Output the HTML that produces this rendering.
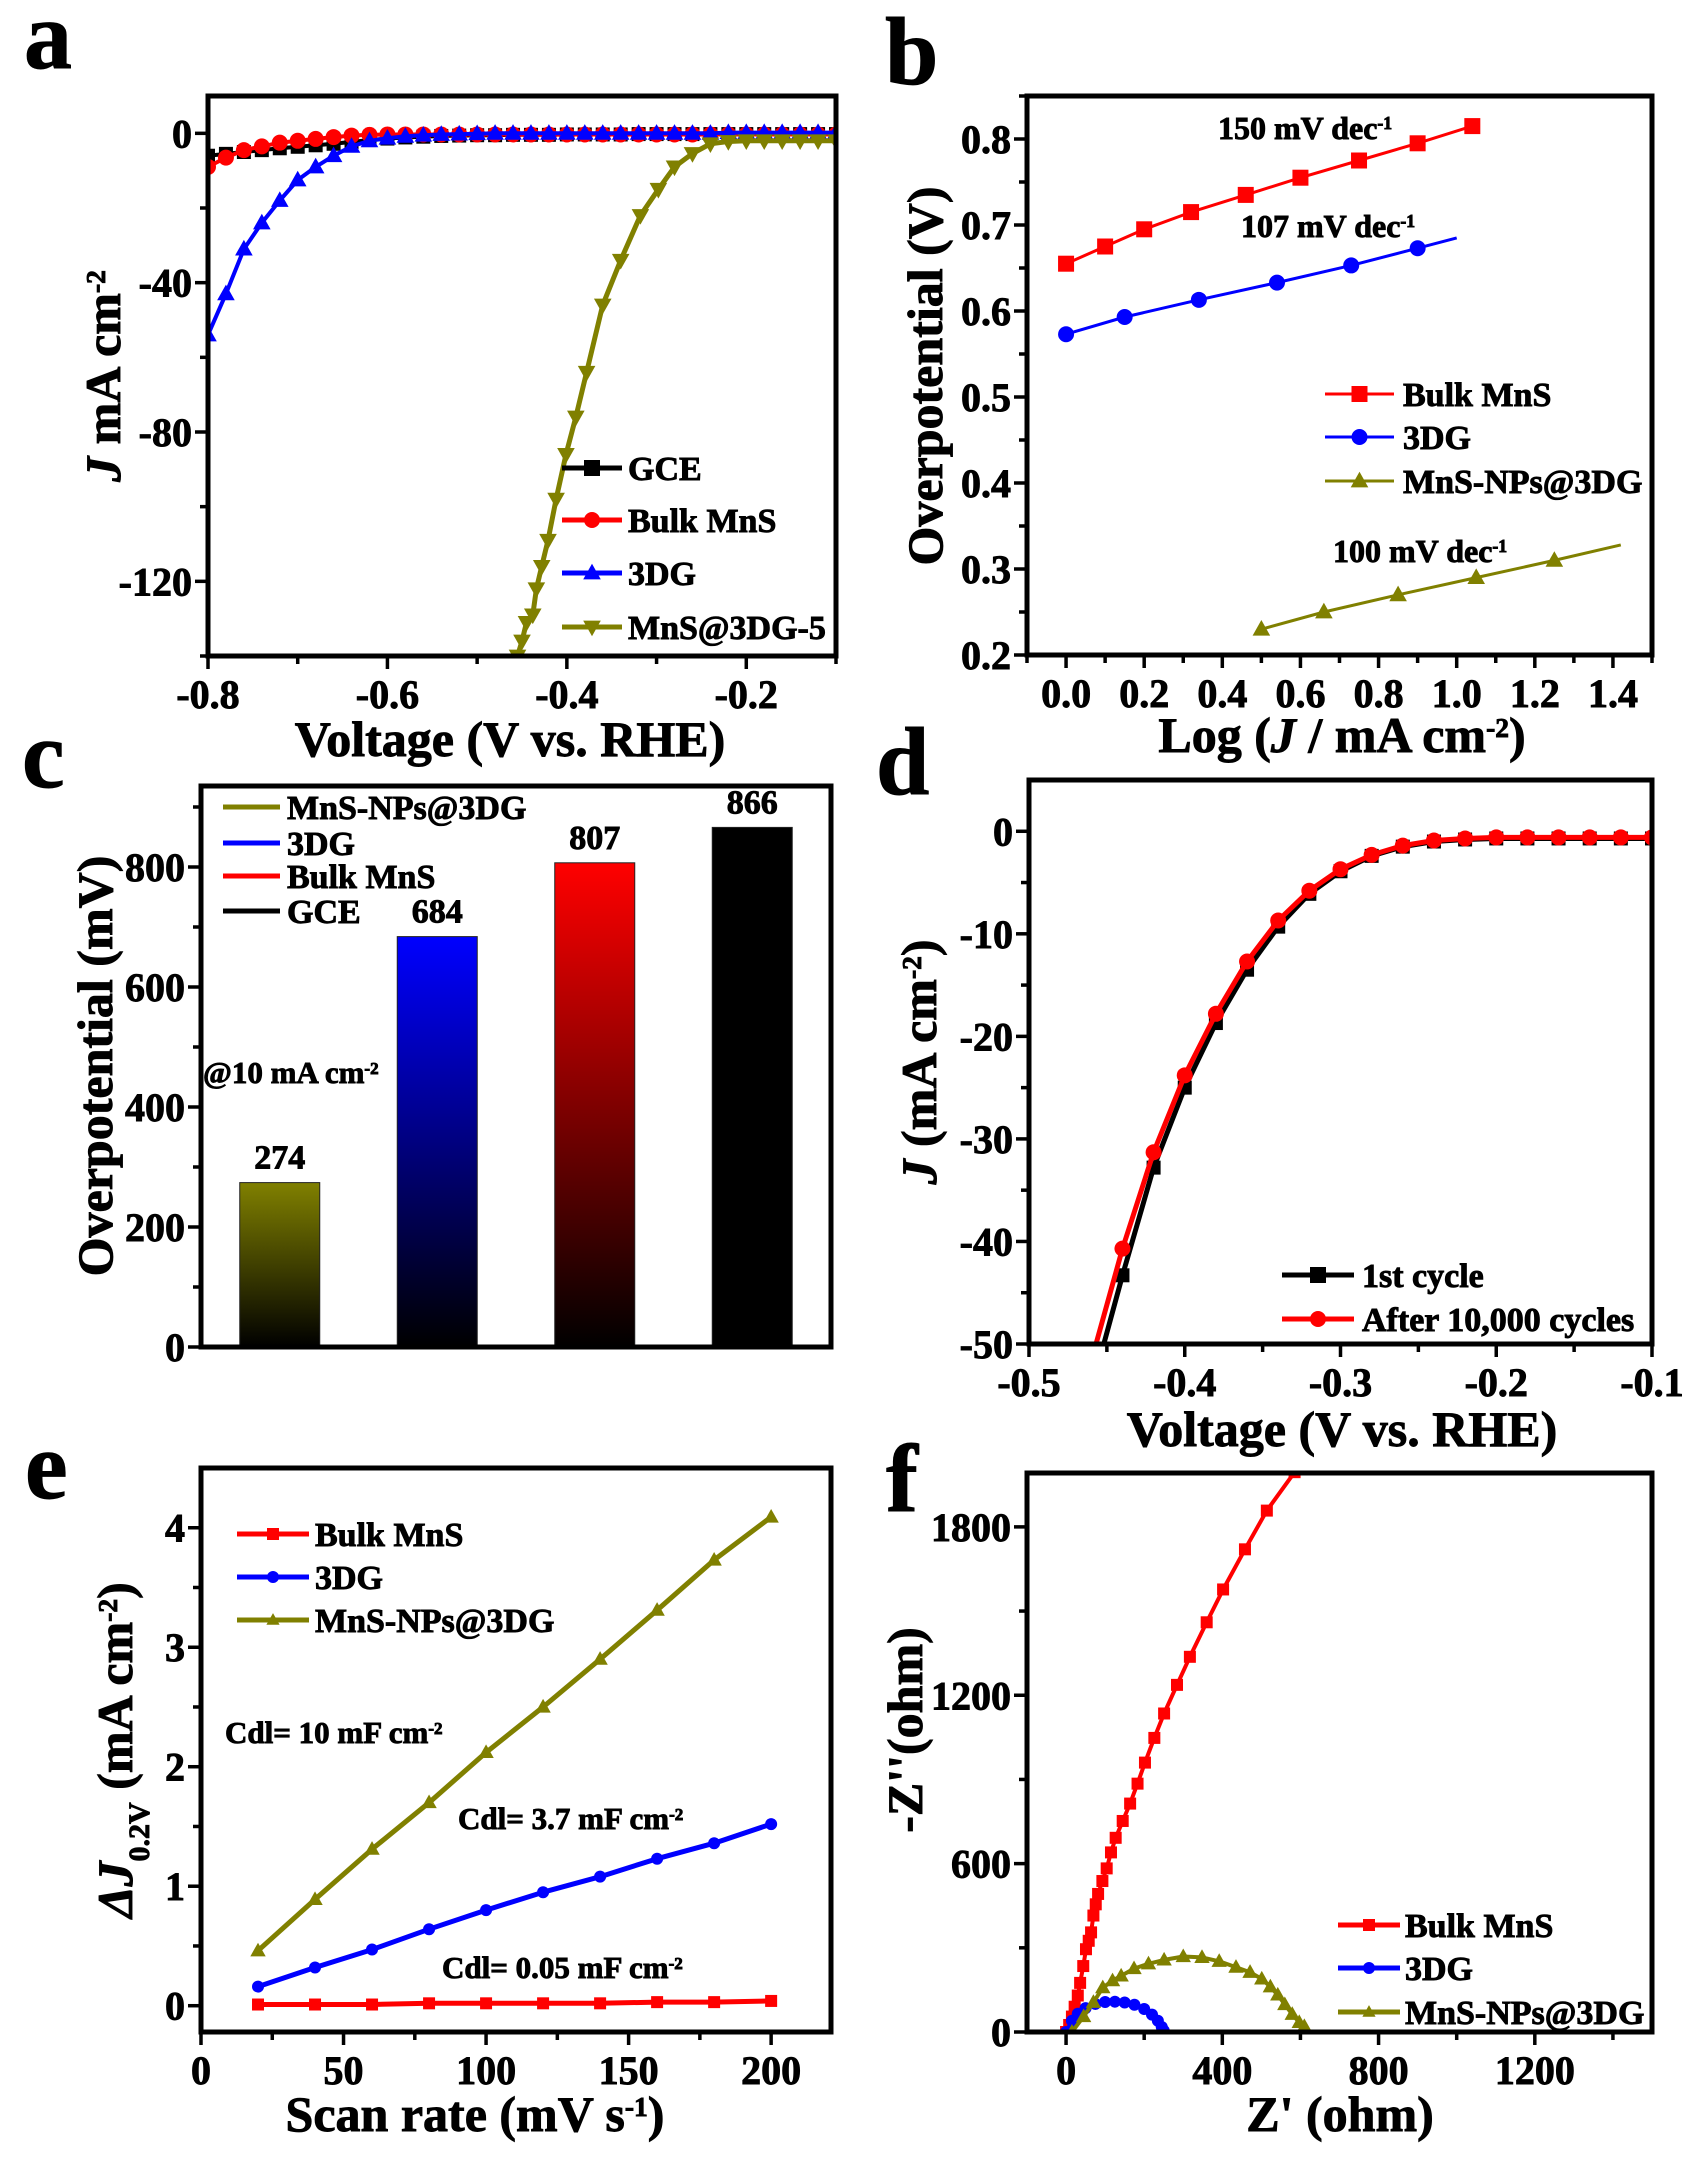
<!DOCTYPE html>
<html><head><meta charset="utf-8"><title>MnS electrocatalysis figure</title>
<style>
html,body{margin:0;padding:0;background:#fff;}
svg{display:block;font-family:"Liberation Serif","DejaVu Serif",serif;font-weight:bold;}
svg text{stroke:#000;stroke-width:0.9px;}
</style></head>
<body>
<svg id="fig" width="1686" height="2172" viewBox="0 0 1686 2172" xmlns="http://www.w3.org/2000/svg"></svg>
<script>
// ---------- Panel a data ----------
const aX = [-0.80,-0.78,-0.76,-0.74,-0.72,-0.70,-0.68,-0.66,-0.64,-0.62,-0.60,-0.58,-0.56,-0.54,-0.52,-0.50,-0.48,-0.46,-0.44,-0.42,-0.40,-0.38,-0.36,-0.34,-0.32,-0.30,-0.28,-0.26,-0.24,-0.22,-0.20,-0.18,-0.16,-0.14,-0.12,-0.10];
const aGCE = [-6,-5.5,-5,-4.5,-4,-3.6,-3.2,-2.8,-2.3,-1.8,-1.4,-1.1,-0.9,-0.7,-0.6,-0.5,-0.5,-0.4,-0.4,-0.4,-0.3,-0.3,-0.3,-0.3,-0.2,-0.2,-0.2,-0.2,-0.2,-0.2,-0.2,-0.2,-0.2,-0.2,-0.2,-0.2];
const aBulk = [-9,-6.5,-4.5,-3.5,-2.5,-2,-1.5,-1,-0.6,-0.4,-0.3,-0.3,-0.3,-0.3,-0.3,-0.3,-0.3,-0.3,-0.3,-0.3,-0.3,-0.3,-0.3,-0.3,-0.3,-0.3,-0.3,-0.3,-0.3,-0.3,-0.3,-0.3,-0.3,-0.3,-0.3,-0.3];
const a3DG = [-54,-43,-31,-24,-18,-12.5,-9,-6,-3.5,-2,-1.3,-0.8,-0.5,-0.3,-0.2,-0.1,0,0,0,0,0,0,0,0,0,0,0,0,0,0.2,0.2,0.2,0.2,0.2,0.2,0.2];
const aMnSX = [-0.455,-0.45,-0.445,-0.438,-0.434,-0.428,-0.421,-0.412,-0.401,-0.39,-0.378,-0.36,-0.34,-0.318,-0.298,-0.28,-0.26,-0.24,-0.22,-0.20,-0.18,-0.16,-0.14,-0.12,-0.10];
const aMnSY = [-140,-136,-131,-129,-122,-116,-109,-98,-86,-76,-64,-46,-34,-22,-15,-9,-5.4,-2.8,-2.2,-2,-2,-2,-2,-2,-2];
// ---------- Panel b data ----------
const bBulkX = [0,0.1,0.2,0.32,0.46,0.6,0.75,0.9,1.04];
const bBulkY = [0.655,0.675,0.695,0.715,0.735,0.755,0.775,0.795,0.815];
const b3DGX = [0,0.15,0.34,0.54,0.73,0.9,1.0];
const b3DGY = [0.573,0.593,0.613,0.633,0.653,0.673,0.685];
const bMnSX = [0.5,0.66,0.85,1.05,1.25,1.42];
const bMnSY = [0.23,0.25,0.27,0.29,0.31,0.328];
// ---------- Panel c data ----------
const cCats = ["MnS-NPs@3DG","3DG","Bulk MnS","GCE"];
const cVals = [274,684,807,866];
// ---------- Panel d data ----------
const dX1 = [-0.452,-0.44,-0.42,-0.40,-0.38,-0.36,-0.34,-0.32,-0.30,-0.28,-0.26,-0.24,-0.22,-0.20,-0.18,-0.16,-0.14,-0.12,-0.10];
const dY1 = [-50,-43.3,-32.8,-25,-18.7,-13.5,-9.3,-6.1,-3.9,-2.4,-1.5,-1.0,-0.8,-0.7,-0.7,-0.7,-0.7,-0.7,-0.7];
const dX2 = [-0.457,-0.44,-0.42,-0.40,-0.38,-0.36,-0.34,-0.32,-0.30,-0.28,-0.26,-0.24,-0.22,-0.20,-0.18,-0.16,-0.14,-0.12,-0.10];
const dY2 = [-50,-40.7,-31.3,-23.8,-17.8,-12.7,-8.7,-5.8,-3.7,-2.3,-1.4,-0.9,-0.7,-0.6,-0.6,-0.6,-0.6,-0.6,-0.6];
// ---------- Panel e data ----------
const eX = [20,40,60,80,100,120,140,160,180,200];
const eBulk = [0.01,0.01,0.01,0.02,0.02,0.02,0.02,0.03,0.03,0.04];
const e3DG = [0.16,0.32,0.47,0.64,0.80,0.95,1.08,1.23,1.36,1.52];
const eMnS = [0.46,0.89,1.31,1.70,2.12,2.50,2.90,3.31,3.73,4.09];
// ---------- Panel f data ----------
const fBulkX = [0,8,15,22,30,36,44,51,58,64,70,76,82,93,104,115,127,145,164,183,202,226,251,284,317,360,402,458,514,585];
const fBulkY = [0,25,55,90,130,175,235,295,325,355,415,455,492,538,583,640,692,752,814,885,960,1048,1135,1237,1337,1460,1577,1720,1858,1995];
const f3DGX = [0,15,30,50,75,100,125,150,175,200,220,235,245,250];
const f3DGY = [0,40,65,85,100,107,108,105,97,82,62,40,18,5];
const fMnSX = [15,45,70,94,119,141,174,211,251,300,348,392,435,471,501,523,542,560,579,597,610];
const fMnSY = [0,55,106,158,183,200,226,243,257,269,266,252,231,213,189,161,132,98,63,34,20];

const NS = "http://www.w3.org/2000/svg";
const fig = document.getElementById('fig');
function mk(tag, attrs, parent, name, inter){
  const el = document.createElementNS(NS, tag);
  for (const k in attrs) el.setAttribute(k, attrs[k]);
  
  
  (parent || fig).appendChild(el);
  return el;
}
function txt(s, x, y, size, parent, name, anchor){
  const t = mk('text', {x:x, y:y, 'font-size':size, 'text-anchor':anchor||'start', fill:'#000'}, parent, name, false);
  t.textContent = s; return t;
}
function rich(parts, x, y, size, parent, name, anchor, rot){
  const attrs = {x:x, y:y, 'font-size':size, 'text-anchor':anchor||'start', fill:'#000'};
  if (rot) attrs.transform = 'rotate(-90 '+x+' '+y+')';
  const t = mk('text', attrs, parent, name, false);
  parts.forEach(p=>{
    const s = document.createElementNS(NS,'tspan');
    s.textContent = p.t;
    if (p.sup){ s.setAttribute('baseline-shift','super'); s.setAttribute('font-size', size*0.55); }
    if (p.sub){ s.setAttribute('baseline-shift','sub'); s.setAttribute('font-size', size*0.6); }
    if (p.i) s.setAttribute('font-style','italic');
    t.appendChild(s);
  });
  return t;
}
function axes(o){
  const g = mk('g', {}, fig, o.name, false);
  const sx = v => o.L + (v - o.xlim[0]) / (o.xlim[1]-o.xlim[0]) * (o.R - o.L);
  const sy = v => o.B - (v - o.ylim[0]) / (o.ylim[1]-o.ylim[0]) * (o.B - o.T);
  const tk = mk('g', {stroke:'#000','stroke-width':3.5}, g, 'ticks', false);
  (o.xMajor||[]).forEach((v,i)=>{
    mk('line',{x1:sx(v),x2:sx(v),y1:o.B,y2:o.B+13},tk,'x-tick',false);
    txt(o.xLabels[i], sx(v), o.B+52, 40, g, 'x-tick-label', 'middle');
  });
  (o.xMinor||[]).forEach(v=>{ mk('line',{x1:sx(v),x2:sx(v),y1:o.B,y2:o.B+8},tk,'x-minor-tick',false); });
  (o.yMajor||[]).forEach((v,i)=>{
    mk('line',{x1:o.L-13,x2:o.L,y1:sy(v),y2:sy(v)},tk,'y-tick',false);
    txt(o.yLabels[i], o.L-16, sy(v)+14, 40, g, 'y-tick-label', 'end');
  });
  (o.yMinor||[]).forEach(v=>{ mk('line',{x1:o.L-8,x2:o.L,y1:sy(v),y2:sy(v)},tk,'y-minor-tick',false); });
  const clipId = 'clip-'+o.name;
  const cp = mk('clipPath',{id:clipId},g,'plot-clip',false);
  mk('rect',{x:o.L,y:o.T,width:o.R-o.L,height:o.B-o.T},cp,'clip-rect',false);
  const plot = mk('g',{'clip-path':'url(#'+clipId+')'},g,'plot-area',false);
  return {g, plot, sx, sy, o};
}
function frame(ax){
  const o = ax.o;
  mk('rect',{x:o.L,y:o.T,width:o.R-o.L,height:o.B-o.T,fill:'none',stroke:'#000','stroke-width':5},ax.g,'plot-frame',false);
}
function marker(shape, x, y, r, color, parent, name){
  if (shape==='sq') return mk('rect',{x:x-r,y:y-r,width:2*r,height:2*r,fill:color},parent,name,false);
  if (shape==='ci') return mk('circle',{cx:x,cy:y,r:r,fill:color},parent,name,false);
  if (shape==='tu') return mk('polygon',{points:`${x},${y-r*1.15} ${x-r*1.1},${y+r*0.8} ${x+r*1.1},${y+r*0.8}`,fill:color},parent,name,false);
  if (shape==='td') return mk('polygon',{points:`${x},${y+r*1.15} ${x-r*1.1},${y-r*0.8} ${x+r*1.1},${y-r*0.8}`,fill:color},parent,name,false);
}
function series(ax, xs, ys, color, shape, r, lw, name, markerEvery){
  const g = mk('g',{},ax.plot,name,false);
  const pts = xs.map((x,i)=>ax.sx(x).toFixed(1)+','+ax.sy(ys[i]).toFixed(1)).join(' ');
  mk('polyline',{points:pts,fill:'none',stroke:color,'stroke-width':lw,'stroke-linejoin':'round'},g,name+'-line',false);
  if (shape) xs.forEach((x,i)=>{ if(!markerEvery || markerEvery(i)) marker(shape, ax.sx(x), ax.sy(ys[i]), r, color, g, name+'-point'); });
}
function legend(items, lx1, lx2, tx, ys, size, parent, lw, r){
  const g = mk('g',{},parent,'legend',false);
  items.forEach((it,i)=>{
    const eg = mk('g',{},g,'legend-entry',true);
    mk('line',{x1:lx1,x2:lx2,y1:ys[i],y2:ys[i],stroke:it.c,'stroke-width':lw},eg,'legend-line',false);
    if (it.s) marker(it.s,(lx1+lx2)/2,ys[i],r,it.c,eg,'legend-marker');
    txt(it.t, tx, ys[i]+size*0.36, size, eg, 'legend-label');
  });
}
const OL = '#808000', RD = '#ff0000', BL = '#0000ff', BK = '#000000';
function rng(a,b,s){const r=[];for(let v=a;v<=b+1e-9;v+=s)r.push(+v.toFixed(4));return r;}

// ================= Panel a =================
txt('a', 24, 68, 96, fig, 'panel-label-a');
const A = axes({name:'panel-a', L:208,R:836,T:96,B:656, xlim:[-0.8,-0.1], ylim:[-140,10],
  xMajor:[-0.8,-0.6,-0.4,-0.2], xLabels:['-0.8','-0.6','-0.4','-0.2'], xMinor:[-0.7,-0.5,-0.3,-0.1],
  yMajor:[0,-40,-80,-120], yLabels:['0','-40','-80','-120'], yMinor:[-20,-60,-100,-140]});
series(A, aX, aGCE, BK, 'sq', 7, 4, 'series-gce');
series(A, aX, aBulk, RD, 'ci', 8, 4, 'series-bulk-mns');
series(A, aX, a3DG, BL, 'tu', 8, 4, 'series-3dg');
series(A, aMnSX, aMnSY, OL, 'td', 8, 5, 'series-mns-3dg-5');
frame(A);
legend([{t:'GCE',c:BK,s:'sq'},{t:'Bulk MnS',c:RD,s:'ci'},{t:'3DG',c:BL,s:'tu'},{t:'MnS@3DG-5',c:OL,s:'td'}],
  562,622,628,[468,520,573,627],34,A.g,5,8);
rich([{t:'J',i:1},{t:' mA cm'},{t:'-2',sup:1}], 120, 376, 50, A.g, 'y-axis-title', 'middle', true);
txt('Voltage (V vs. RHE)', 510, 756, 50, A.g, 'x-axis-title', 'middle');

// ================= Panel b =================
txt('b', 885, 84, 96, fig, 'panel-label-b');
const B = axes({name:'panel-b', L:1027,R:1652,T:96,B:655, xlim:[-0.1,1.5], ylim:[0.2,0.85],
  xMajor:rng(0,1.4,0.2), xLabels:['0.0','0.2','0.4','0.6','0.8','1.0','1.2','1.4'], xMinor:rng(0.1,1.3,0.2).concat([-0.1+1e-6,1.5-1e-6]),
  yMajor:rng(0.2,0.8,0.1), yLabels:['0.2','0.3','0.4','0.5','0.6','0.7','0.8'], yMinor:rng(0.25,0.85,0.1)});
series(B, bBulkX, bBulkY, RD, 'sq', 8, 3, 'series-bulk-mns');
series(B, b3DGX, b3DGY, BL, 'ci', 8, 3, 'series-3dg', i=>i<b3DGX.length-1);
series(B, bMnSX, bMnSY, OL, 'tu', 8, 3, 'series-mns-nps-3dg', i=>i<bMnSX.length-1);
frame(B);
legend([{t:'Bulk MnS',c:RD,s:'sq'},{t:'3DG',c:BL,s:'ci'},{t:'MnS-NPs@3DG',c:OL,s:'tu'}],
  1325,1394,1403,[394,437,481],34,B.g,3,8);
rich([{t:'150 mV dec'},{t:'-1',sup:1}], 1218, 139, 32, B.g, 'tafel-slope-bulk');
rich([{t:'107 mV dec'},{t:'-1',sup:1}], 1241, 237, 32, B.g, 'tafel-slope-3dg');
rich([{t:'100 mV dec'},{t:'-1',sup:1}], 1333, 562, 32, B.g, 'tafel-slope-mns');
txt('Overpotential (V)', 942, 376, 50, B.g, 'y-axis-title', 'middle').setAttribute('transform','rotate(-90 942 376)');
rich([{t:'Log ('},{t:'J',i:1},{t:' / mA cm'},{t:'-2',sup:1},{t:')'}], 1342, 752, 50, B.g, 'x-axis-title', 'middle');

// ================= Panel c =================
txt('c', 22, 787, 96, fig, 'panel-label-c');
const C = axes({name:'panel-c', L:201,R:831,T:786,B:1347, xlim:[0.5,4.5], ylim:[0,935],
  yMajor:[0,200,400,600,800], yLabels:['0','200','400','600','800'], yMinor:[100,300,500,700,900]});
const defs = mk('defs',{},C.g,'gradients',false);
const cCols = [OL,BL,RD,BK];
cVals.forEach((v,i)=>{
  const gr = mk('linearGradient',{id:'grad'+i,x1:0,y1:0,x2:0,y2:1},defs,'bar-gradient',false);
  mk('stop',{offset:'0','stop-color':cCols[i]},gr,'gradient-stop',false);
  mk('stop',{offset:'1','stop-color':'#000'},gr,'gradient-stop',false);
  const cx = C.sx(i+1);
  mk('rect',{x:cx-40,y:C.sy(v),width:80,height:C.sy(0)-C.sy(v),fill:'url(#grad'+i+')',stroke:'#222','stroke-width':1},C.plot,'bar-'+cCats[i].toLowerCase().replace(/[^a-z0-9]+/g,'-'),true);
  txt(String(v), cx, C.sy(v)-14, 34, C.g, 'bar-value-label', 'middle');
});
frame(C);
legend([{t:'MnS-NPs@3DG',c:OL},{t:'3DG',c:BL},{t:'Bulk MnS',c:RD},{t:'GCE',c:BK}],
  223,280,287,[807,843,876,911],34,C.g,5,0);
rich([{t:'@10 mA cm'},{t:'-2',sup:1}], 203, 1083, 31, C.g, 'current-density-note');
txt('Overpotential (mV)', 112, 1066, 50, C.g, 'y-axis-title', 'middle').setAttribute('transform','rotate(-90 112 1066)');

// ================= Panel d =================
txt('d', 876, 794, 96, fig, 'panel-label-d');
const D = axes({name:'panel-d', L:1029,R:1652,T:780,B:1344, xlim:[-0.5,-0.1], ylim:[-50,5],
  xMajor:[-0.5,-0.4,-0.3,-0.2,-0.1], xLabels:['-0.5','-0.4','-0.3','-0.2','-0.1'], xMinor:[-0.45,-0.35,-0.25,-0.15],
  yMajor:[0,-10,-20,-30,-40,-50], yLabels:['0','-10','-20','-30','-40','-50'], yMinor:[-5,-15,-25,-35,-45]});
series(D, dX1, dY1, BK, 'sq', 7, 5, 'series-1st-cycle', i=>i>0);
series(D, dX2, dY2, RD, 'ci', 8, 5, 'series-after-10000-cycles', i=>i>0);
frame(D);
legend([{t:'1st cycle',c:BK,s:'sq'},{t:'After 10,000 cycles',c:RD,s:'ci'}],
  1282,1354,1362,[1275,1319],34,D.g,5,8);
rich([{t:'J',i:1},{t:' (mA cm'},{t:'-2',sup:1},{t:')'}], 936, 1062, 50, D.g, 'y-axis-title', 'middle', true);
txt('Voltage (V vs. RHE)', 1342, 1446, 50, D.g, 'x-axis-title', 'middle');

// ================= Panel e =================
txt('e', 25, 1498, 96, fig, 'panel-label-e');
const E = axes({name:'panel-e', L:201,R:831,T:1468,B:2032, xlim:[0,221], ylim:[-0.22,4.5],
  xMajor:[0,50,100,150,200], xLabels:['0','50','100','150','200'], xMinor:[25,75,125,175],
  yMajor:[0,1,2,3,4], yLabels:['0','1','2','3','4'], yMinor:[0.5,1.5,2.5,3.5]});
series(E, eX, eBulk, RD, 'sq', 6, 5, 'series-bulk-mns');
series(E, eX, e3DG, BL, 'ci', 6, 5, 'series-3dg');
series(E, eX, eMnS, OL, 'tu', 7, 5, 'series-mns-nps-3dg');
frame(E);
legend([{t:'Bulk MnS',c:RD,s:'sq'},{t:'3DG',c:BL,s:'ci'},{t:'MnS-NPs@3DG',c:OL,s:'tu'}],
  237,309,315,[1534,1577,1620],34,E.g,5,6);
rich([{t:'Cdl= 10 mF cm'},{t:'-2',sup:1}], 225, 1743, 31, E.g, 'cdl-mns-annotation');
rich([{t:'Cdl= 3.7 mF cm'},{t:'-2',sup:1}], 458, 1829, 31, E.g, 'cdl-3dg-annotation');
rich([{t:'Cdl= 0.05 mF cm'},{t:'-2',sup:1}], 442, 1978, 31, E.g, 'cdl-bulk-annotation');
rich([{t:'ΔJ',i:1},{t:'0.2V',sub:1},{t:' (mA cm'},{t:'-2',sup:1},{t:')'}], 132, 1750, 50, E.g, 'y-axis-title', 'middle', true);
rich([{t:'Scan rate (mV s'},{t:'-1',sup:1},{t:')'}], 475, 2131, 50, E.g, 'x-axis-title', 'middle');

// ================= Panel f =================
txt('f', 886, 1511, 96, fig, 'panel-label-f');
const F = axes({name:'panel-f', L:1027,R:1652,T:1473,B:2032, xlim:[-100,1500], ylim:[0,1992],
  xMajor:[0,400,800,1200], xLabels:['0','400','800','1200'], xMinor:[200,600,1000,1400],
  yMajor:[0,600,1200,1800], yLabels:['0','600','1200','1800'], yMinor:[300,900,1500]});
series(F, fBulkX, fBulkY, RD, 'sq', 6, 4, 'series-bulk-mns');
series(F, f3DGX, f3DGY, BL, 'ci', 6, 4, 'series-3dg');
series(F, fMnSX, fMnSY, OL, 'tu', 7, 4, 'series-mns-nps-3dg');
frame(F);
legend([{t:'Bulk MnS',c:RD,s:'sq'},{t:'3DG',c:BL,s:'ci'},{t:'MnS-NPs@3DG',c:OL,s:'tu'}],
  1338,1400,1405,[1925,1968,2012],34,F.g,5,6);
txt("-Z''(ohm)", 922, 1730, 50, F.g, 'y-axis-title', 'middle').setAttribute('transform','rotate(-90 922 1730)');
txt("Z' (ohm)", 1340, 2131, 50, F.g, 'x-axis-title', 'middle');
</script>
</body></html>
